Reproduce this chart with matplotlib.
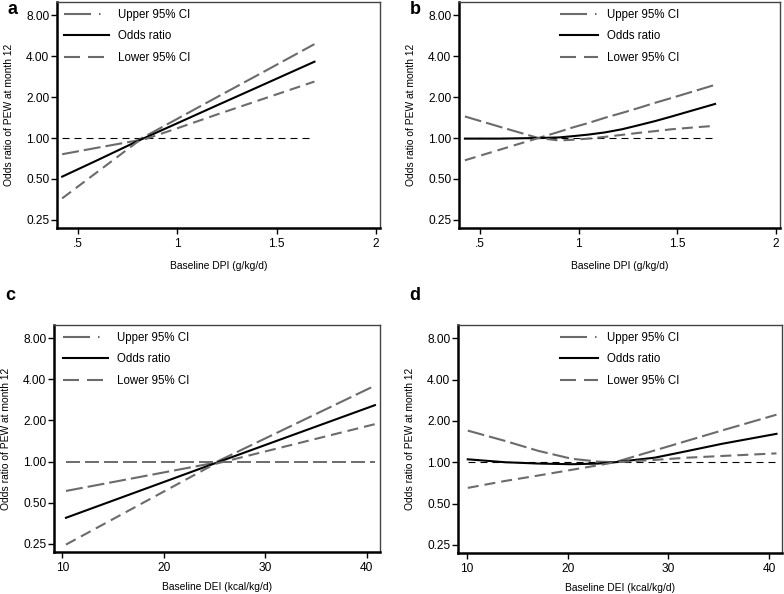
import matplotlib
matplotlib.use('Agg')
import matplotlib.pyplot as plt
from matplotlib.lines import Line2D

plt.rcParams['font.family'] = ['Liberation Sans', 'DejaVu Sans']
plt.rcParams['lines.scale_dashes'] = False

# panel a: baseline DPI, model 1
dpi_x_a = [0.42, 0.60, 0.80, 1.00, 1.20, 1.40, 1.69]
or_a = [0.52, 0.69, 0.95, 1.285, 1.74, 2.35, 3.64]
upper_a = [0.76, 0.85, 0.96, 1.385, 2.0, 2.88, 4.9]
lower_a = [0.36, 0.567, 0.94, 1.18, 1.49, 1.87, 2.6]

# panel b: baseline DPI, model 2
dpi_x_b = [0.424, 0.60, 0.796, 0.90, 0.965, 1.05, 1.134, 1.22, 1.302, 1.39, 1.471, 1.58, 1.691]
or_b = [0.99, 0.99, 1.0, 1.01, 1.03, 1.06, 1.10, 1.16, 1.24, 1.335, 1.44, 1.60, 1.78]
upper_b = [1.44, 1.21, 1.0, 1.11, 1.19, 1.29, 1.41, 1.53, 1.66, 1.82, 1.97, 2.20, 2.46]
lower_b = [0.686, 0.82, 1.0, 0.96, 0.97, 0.99, 1.02, 1.055, 1.09, 1.125, 1.16, 1.195, 1.23]

# panel c: baseline DEI, model 1
dei_x_c = [10.36, 25.0, 40.8]
or_c = [0.388, 0.97, 2.59]
upper_c = [0.61, 0.98, 3.6]
lower_c = [0.247, 0.96, 1.88]

# panel d: baseline DEI, model 2
dei_x_d = [10.07, 13.77, 17.08, 20.39, 23.04, 24.7, 28.67, 31.98, 35.29, 40.75]
or_d = [1.05, 1.0, 0.978, 0.967, 0.978, 1.0, 1.08, 1.21, 1.36, 1.61]
upper_d = [1.70, 1.43, 1.21, 1.06, 1.01, 1.0, 1.22, 1.44, 1.70, 2.22]
lower_d = [0.65, 0.73, 0.80, 0.88, 0.95, 1.0, 1.04, 1.08, 1.11, 1.16]

y_ticks = [0.25, 0.5, 1, 2, 4, 8]
y_ticklabels = ['0.25', '0.50', '1.00', '2.00', '4.00', '8.00']
dpi_ticks = [0.5, 1, 1.5, 2]
dpi_ticklabels = ['.5', '1', '1.5', '2']
dei_ticks = [10, 20, 30, 40]
dei_ticklabels = ['10', '20', '30', '40']
legend_labels = ['Upper 95% CI', 'Odds ratio', 'Lower 95% CI']

GRAY = '#6b6b6b'
PX = 0.72  # points per pixel at 100 dpi
UPPER_DASH = (0, (17 * PX, 5 * PX))
LOWER_DASH = (0, (11 * PX, 6 * PX))
REF_DASH = (0, (7 * PX, 5 * PX))

fig = plt.figure(figsize=(7.84, 5.94), dpi=100)

panels = [
    # letter, rect (px), x, or, upper, lower, xlim, ticks, ticklabels, xlabel, legend x, handle len, ref style
    ('a', [57, 2, 380, 228], dpi_x_a, or_a, upper_a, lower_a, (0.394, 2.02),
     dpi_ticks, dpi_ticklabels, 'Baseline DPI (g/kg/d)', 0.0, 3.9, 'black'),
    ('b', [459, 2, 780, 228], dpi_x_b, or_b, upper_b, lower_b, (0.394, 2.02),
     dpi_ticks, dpi_ticklabels, 'Baseline DPI (g/kg/d)', 0.293, 3.3, 'black'),
    ('c', [54, 325, 380, 552], dei_x_c, or_c, upper_c, lower_c, (9.18, 41.3),
     dei_ticks, dei_ticklabels, 'Baseline DEI (kcal/kg/d)', 0.007, 3.9, 'gray'),
    ('d', [458, 325, 782, 553], dei_x_d, or_d, upper_d, lower_d, (9.1, 41.3),
     dei_ticks, dei_ticklabels, 'Baseline DEI (kcal/kg/d)', 0.293, 3.3, 'black'),
]

W, H = 784.0, 594.0
for (letter, r, x, orv, up, lo, xlim, xt, xtl, xlabel, legx, hlen, ref) in panels:
    x0, y0, x1, y1 = r
    ax = fig.add_axes([x0 / W, 1 - y1 / H, (x1 - x0) / W, (y1 - y0) / H])
    ax.set_yscale('log')
    ax.set_ylim(0.218, 10.0)
    ax.set_xlim(*xlim)

    if ref == 'black':
        ax.plot([x[0], x[-1]], [1, 1], color='black', lw=0.8, linestyle=REF_DASH)
    else:
        ax.plot([x[0], x[-1]], [1, 1], color=GRAY, lw=1.4,
                linestyle=(0, (14 * PX, 5 * PX)))
    ax.plot(x, up, color=GRAY, lw=1.5, linestyle=UPPER_DASH)
    ax.plot(x, orv, color='black', lw=1.5)
    ax.plot(x, lo, color=GRAY, lw=1.5, linestyle=LOWER_DASH)

    ax.set_yticks(y_ticks)
    ax.set_yticklabels(y_ticklabels)
    ax.yaxis.set_minor_locator(plt.NullLocator())
    ax.set_xticks(xt)
    ax.set_xticklabels(xtl)
    ax.tick_params(axis='both', direction='out', length=4, width=1.0,
                   labelsize=8.6, color='black')
    ax.tick_params(axis='y', pad=1.5)
    ax.tick_params(axis='x', pad=3)

    for side in ['left', 'bottom']:
        ax.spines[side].set_linewidth(1.8)
    for side in ['top', 'right']:
        ax.spines[side].set_linewidth(1.0)
        ax.spines[side].set_color('#444444')

    ax.set_ylabel('Odds ratio of PEW at month 12', fontsize=7.4, labelpad=9)
    ax.set_xlabel(xlabel, fontsize=7.4, labelpad=8 if letter in 'ab' else 6)

    handles = [
        Line2D([], [], color=GRAY, lw=1.5, linestyle=(0, (27 * PX, 8 * PX, 1.5 * PX, 20 * PX))),
        Line2D([], [], color='black', lw=1.5),
        Line2D([], [], color=GRAY, lw=1.5, linestyle=(0, (16 * PX, 8 * PX))),
    ]
    ax.legend(handles, legend_labels, loc='upper left', bbox_to_anchor=(legx, 1.0),
              frameon=False, fontsize=8.3, handlelength=hlen, handletextpad=0.8,
              labelspacing=0.82, borderpad=0.3, borderaxespad=0.3)

    fig.text((x0 - 49) / W, 1 - (y0 + 8) / H if letter in 'ab' else 1 - 296 / H,
             letter, fontsize=13, fontweight='bold', va='center', ha='left')

fig.savefig('out.png', dpi=100)
